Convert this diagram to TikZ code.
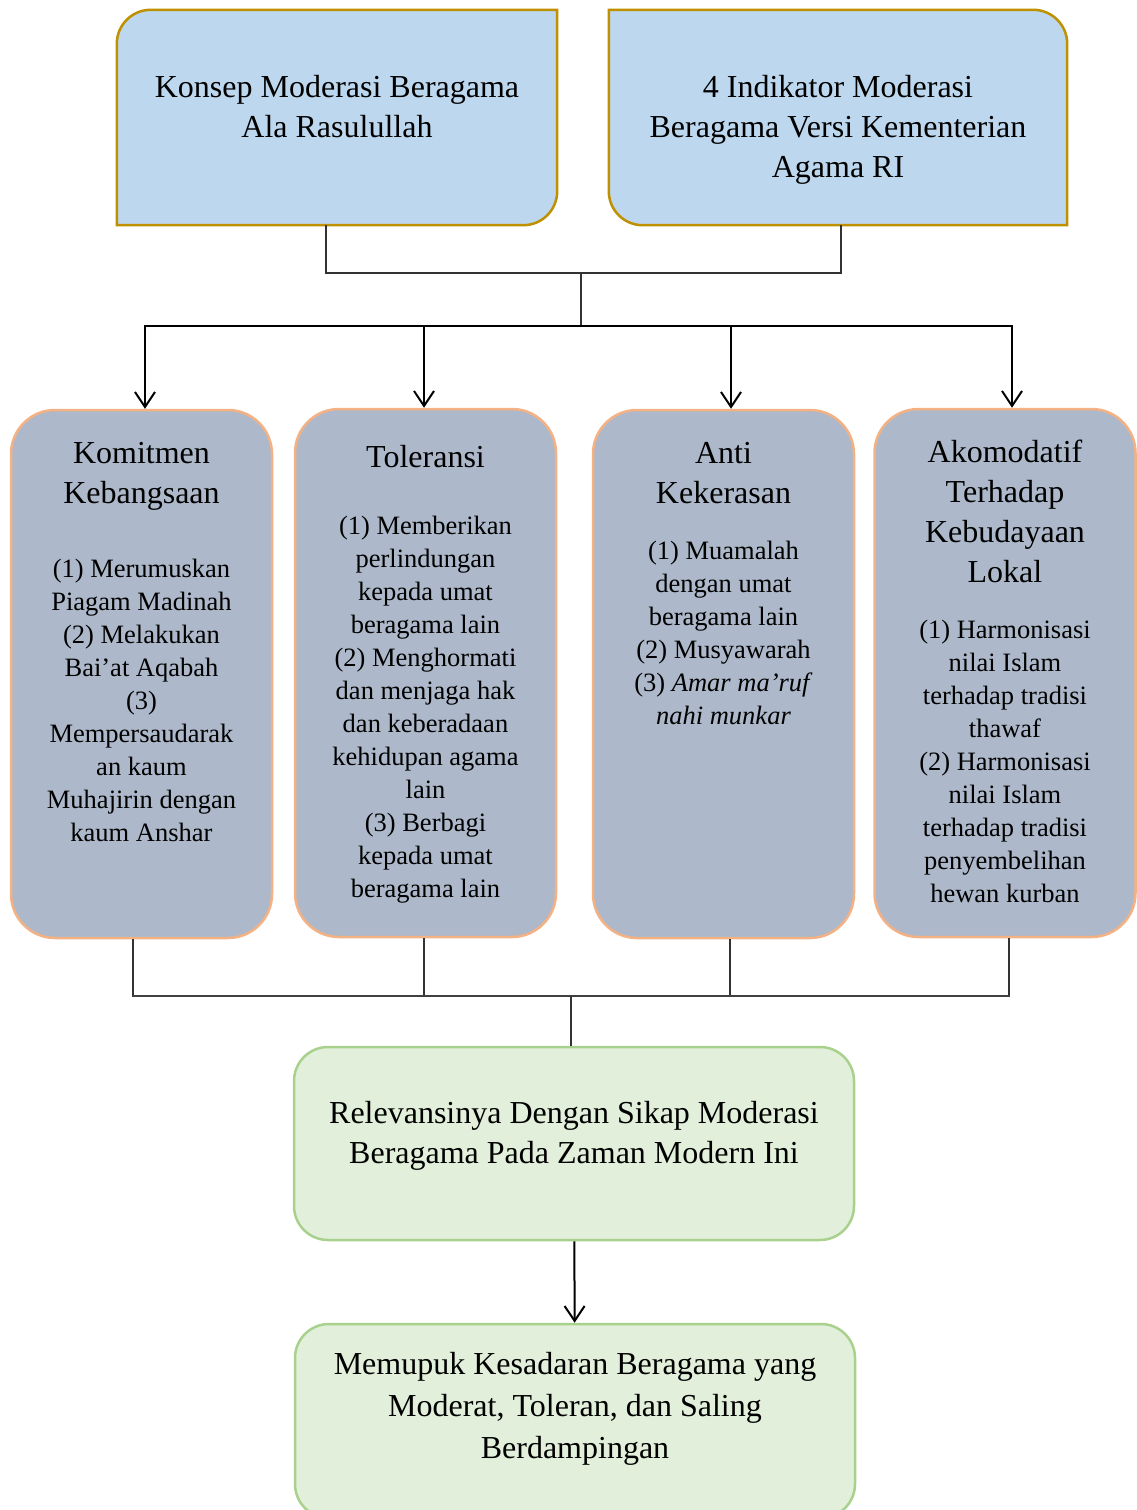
\documentclass[tikz,border=0pt]{standalone}
\usepackage{fontspec}
\setmainfont{Liberation Serif}
\usetikzlibrary{arrows.meta,backgrounds}

\definecolor{birumuda}{HTML}{BDD7EE}
\definecolor{emas}{HTML}{BF9000}
\definecolor{abubiru}{HTML}{ADB9CA}
\definecolor{oranye}{HTML}{F4B183}
\definecolor{hijaumuda}{HTML}{E2EFDA}
\definecolor{hijau}{HTML}{A9D18E}

\newcommand{\judul}{\fontsize{32}{40}\selectfont}
\newcommand{\isi}{\fontsize{26.5}{33}\selectfont}

\begin{document}
\begin{tikzpicture}[x=1pt,y=1pt,
	kotakatas/.style={fill=birumuda, draw=emas, line width=2.5pt},
	tengah/.style={draw=oranye, fill=abubiru, line width=2.5pt, rounded corners=44pt,
		inner sep=0pt, minimum width=261pt, minimum height=528pt},
	hasil/.style={draw=hijau, fill=hijaumuda, line width=2.5pt, rounded corners=34pt,
		inner sep=0pt, minimum width=560pt},
	garis/.style={line width=1.2pt, black!80},
	bus/.style={line width=2pt, black!75},
	panah/.style={line width=2pt, -{Straight Barb[length=15pt,width=20pt]}}]
\useasboundingbox (0,0) rectangle (1136,-1510);

\node[inner sep=0pt, minimum width=440pt, minimum height=215pt] (konsep) at (337,-117.5) {\parbox[c][215pt][t]{430pt}{\centering\judul\rule{0pt}{87pt}Konsep Moderasi Beragama\\Ala Rasulullah}}; % kiri atas
\node[inner sep=0pt, minimum width=458pt, minimum height=215pt] (indikator) at (838,-117.5) {\parbox[c][215pt][t]{448pt}{\centering\judul\rule{0pt}{87pt}4 Indikator Moderasi\\Beragama Versi Kementerian\\Agama RI}}; % kanan atas

\begin{pgfonlayer}{background}
\path[kotakatas] (konsep.south west) -- ([yshift=-34pt]konsep.north west) to[out=90,in=180] ([xshift=34pt]konsep.north west) -- (konsep.north east) -- ([yshift=34pt]konsep.south east) to[out=-90,in=0] ([xshift=-34pt]konsep.south east) -- cycle; % konsep
\path[kotakatas] (indikator.north west) -- ([xshift=-34pt]indikator.north east) to[out=0,in=90] ([yshift=-34pt]indikator.north east) -- (indikator.south east) -- ([xshift=34pt]indikator.south west) to[out=180,in=-90] ([yshift=34pt]indikator.south west) -- cycle; % indikator
\end{pgfonlayer}

\node[tengah] (komitmen) at (141.5,-674) {\parbox[c][528pt][t]{251pt}{\centering\judul\rule{0pt}{53pt}Komitmen\\Kebangsaan\par\vspace{41pt}\isi
	(1) Merumuskan\\Piagam Madinah\\(2) Melakukan\\Bai’at Aqabah\\(3)\\Mempersaudarak\\an kaum\\Muhajirin dengan\\kaum Anshar}}; % indikator 1
\node[tengah] (toleransi) at (425.5,-673) {\parbox[c][528pt][t]{251pt}{\centering\judul\rule{0pt}{58pt}Toleransi\par\vspace{34pt}\isi
	(1) Memberikan\\perlindungan\\kepada umat\\beragama lain\\(2) Menghormati\\dan menjaga hak\\dan keberadaan\\kehidupan agama\\lain\\(3) Berbagi\\kepada umat\\beragama lain}}; % indikator 2
\node[tengah] (anti) at (723.5,-674) {\parbox[c][528pt][t]{251pt}{\centering\judul\rule{0pt}{53pt}Anti\\Kekerasan\par\vspace{23pt}\isi
	(1) Muamalah\\dengan umat\\beragama lain\\(2) Musyawarah\\(3) \textit{Amar ma’ruf}\\\textit{nahi munkar}}}; % indikator 3
\node[tengah] (akomodatif) at (1005,-673) {\parbox[c][528pt][t]{251pt}{\centering\judul\rule{0pt}{53pt}Akomodatif\\Terhadap\\Kebudayaan\\Lokal\par\vspace{23pt}\isi
	(1) Harmonisasi\\nilai Islam\\terhadap tradisi\\thawaf\\(2) Harmonisasi\\nilai Islam\\terhadap tradisi\\penyembelihan\\hewan kurban}}; % indikator 4

\node[hasil, minimum height=193pt] (relevansi) at (574,-1143.5) {\parbox[c][193pt][t]{540pt}{\centering\judul\rule{0pt}{76pt}Relevansinya Dengan Sikap Moderasi\\Beragama Pada Zaman Modern Ini}};
\node[hasil, minimum height=194pt] (memupuk) at (575,-1421) {\parbox[c][194pt][t]{540pt}{\centering\fontsize{32}{42}\selectfont\rule{0pt}{50pt}Memupuk Kesadaran Beragama yang\\Moderat, Toleran, dan Saling\\Berdampingan}};

% cabang atas
\coordinate (atas) at (581,-273);
\coordinate (bawah) at (581,-326);
\coordinate (k1) at ([xshift=-11pt]konsep.south);
\coordinate (k2) at ([xshift=3pt]indikator.south);
\draw[garis] (k1) |- (atas) -| (k2);
\draw[garis] (atas) -- (bawah);
\draw[bus] (145,-326) -- (1012,-326);
\draw[panah] (bawah) -| ([xshift=3.5pt]komitmen.north);
\draw[panah] (bawah) -| ([xshift=-1.5pt]toleransi.north);
\draw[panah] (bawah) -| ([xshift=7.5pt]anti.north);
\draw[panah] (bawah) -| ([xshift=7pt]akomodatif.north);

% cabang bawah
\coordinate (gabung) at (571,-996);
\draw[garis] ([xshift=-8.5pt]komitmen.south) |- (gabung);
\draw[garis] ([xshift=-1.5pt]toleransi.south) |- (gabung);
\draw[garis] ([xshift=6.5pt]anti.south) |- (gabung);
\draw[garis] ([xshift=4pt]akomodatif.south) |- (gabung);
\draw[bus] (133,-996) -- (1010,-996);
\draw[garis] (gabung) -- ([xshift=-3pt]relevansi.north);
\draw[panah] (relevansi) -- (memupuk);
\end{tikzpicture}
\end{document}
